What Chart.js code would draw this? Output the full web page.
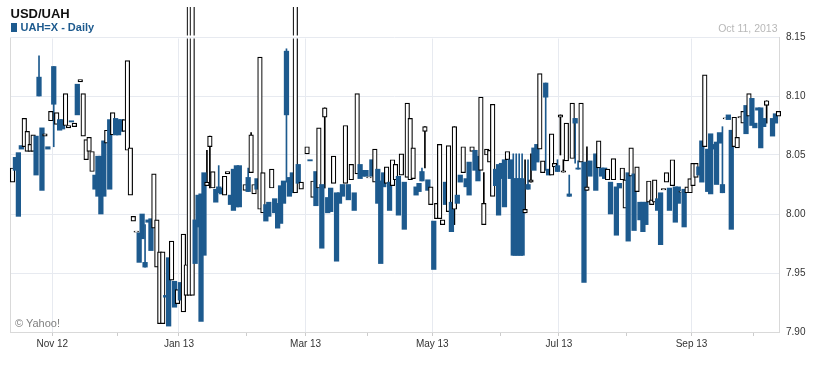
<!DOCTYPE html>
<html><head><meta charset="utf-8">
<script src="https://cdn.jsdelivr.net/npm/chart.js@4"></script>
<style>
html,body{margin:0;padding:0;background:#fff;}
#wrap{position:relative;width:826px;height:366px;overflow:hidden;font-family:"Liberation Sans",Arial,sans-serif;}
canvas{position:absolute;left:0;top:0;}
.t{position:absolute;line-height:1;white-space:nowrap;}
</style></head><body>
<div id="wrap">
<canvas id="c" width="826" height="366"></canvas>
<div class="t" style="left:10.5px;top:7.3px;font-size:13px;font-weight:bold;color:#111">USD/UAH</div>
<div class="t" style="left:10.7px;top:22.7px;width:6.6px;height:9px;background:#1d5a8e"></div>
<div class="t" style="left:20.5px;top:22.4px;font-size:11px;font-weight:bold;color:#1d5a8e">UAH=X - Daily</div>
<div class="t" style="right:48.5px;top:22.8px;font-size:10.5px;color:#b8b8b8">Oct 11, 2013</div>
<div class="t" style="left:15px;top:317.6px;font-size:11px;color:#808080">© Yahoo!</div>
</div>
<script>
// Trading-day index 0 = Oct 12 2012 ... 260 = Oct 11 2013 (null = no candle)
const openV = [
8.027,8.048,8.052,8.058,8.057,8.053,8.053,8.053,8.066,8.116,
8.073,8.066,8.057,8.079,8.125,8.076,8.080,8.080,8.075,8.073,
8.079,8.074,8.110,8.112,8.066,8.046,8.053,8.036,8.033,8.049,
8.049,8.062,8.060,8.080,8.067,8.081,8.080,8.080,8.070,8.054,
8.016,7.994,7.9845,7.984,8.000,7.959,7.995,7.996,7.988,7.955,
7.907,7.907,7.931,7.963,7.944,7.943,7.924,7.942,7.917,7.931,
7.931,7.931,7.995,8.016,8.017,8.035,8.024,8.057,8.022,8.021,
8.023,8.022,8.016,8.034,8.016,8.038,8.041,8.041,null,8.020,
8.031,8.035,8.017,8.030,8.004,8.001,8.008,8.010,8.022,8.013,
8.009,8.024,8.028,8.138,8.031,8.035,8.018,8.042,8.021,null,
8.051,8.046,8.014,8.036,8.022,8.025,8.082,8.014,8.022,8.026,
8.018,8.018,8.025,8.026,8.025,8.029,8.018,8.034,8.042,8.037,
8.037,8.0305,8.046,8.027,8.038,8.028,8.035,8.026,8.027,8.024,
8.029,8.032,8.033,8.027,8.031,8.029,8.030,8.023,8.026,8.036,
8.070,8.029,8.008,7.994,7.996,7.996,7.991,8.027,8.002,8.010,
8.004,8.016,8.033,8.035,8.030,8.044,8.053,8.054,8.049,8.037,
7.991,8.050,8.044,8.015,8.038,8.042,8.043,8.046,8.046,8.046,
8.030,8.030,8.030,8.030,8.001,8.025,8.027,8.056,8.059,8.055,
8.035,8.111,8.038,8.033,8.040,8.041,8.082,8.0355,8.045,8.017,
8.047,8.081,8.039,8.044,8.044,8.020,8.045,null,8.051,8.039,
8.039,8.039,8.029,8.027,8.029,8.023,8.026,8.029,8.005,8.035,
8.032,8.034,8.019,8.010,8.010,8.010,8.010,8.008,8.010,8.013,
8.018,8.0205,8.027,8.022,8.024,8.023,8.023,8.0185,8.021,8.018,
8.018,8.024,8.031,8.040,8.062,8.057,8.055,8.068,8.059,8.061,
8.069,8.025,8.0805,8.084,8.071,8.057,8.056,8.0815,8.077,8.092,
8.083,8.098,8.077,8.090,8.090,8.081,8.092,null,8.081,8.085,
8.083];
const closeV = [
8.039,8.037,7.998,8.055,8.081,8.070,8.059,8.067,8.033,8.100,
8.020,8.068,8.055,8.087,8.093,8.086,8.071,8.072,8.102,8.075,
8.078,8.077,8.084,8.114,8.102,8.063,8.065,8.053,8.021,8.015,
8.000,8.015,8.071,8.021,8.086,8.067,8.067,8.070,8.080,8.130,
8.056,7.998,7.9855,7.959,7.979,7.955,7.993,7.969,8.034,7.995,
7.968,7.968,7.9295,7.905,7.977,7.921,7.936,7.927,7.983,7.957,
8.260,8.260,7.958,7.989,7.909,7.965,8.027,8.066,8.036,8.010,
8.018,8.017,8.032,8.036,8.008,8.003,8.006,8.006,null,8.025,
8.019,8.067,8.025,8.021,8.133,8.035,7.994,7.998,8.038,8.001,
7.988,7.992,8.009,8.084,8.015,8.018,8.260,8.026,8.027,null,
8.057,8.045,8.028,8.007,8.073,7.971,8.090,8.001,8.002,8.049,
7.960,8.009,8.015,8.075,8.012,8.042,8.003,8.102,8.030,8.032,
8.032,8.0315,8.032,8.055,8.009,7.958,8.023,8.040,8.003,8.046,
8.042,7.999,8.051,7.987,8.094,8.081,8.056,8.016,8.019,8.028,
8.074,8.020,8.023,7.953,8.009,8.059,7.995,8.008,8.058,7.985,
8.074,8.009,8.027,8.057,8.023,8.016,8.057,8.037,8.028,8.099,
8.009,8.055,8.054,8.093,8.024,7.999,8.030,8.006,8.053,8.030,
7.965,7.965,7.965,7.965,8.004,8.021,8.029,8.037,8.044,8.119,
8.045,8.099,8.033,8.068,8.043,8.036,8.084,8.0365,8.077,8.015,
8.094,8.077,8.038,8.094,7.942,8.023,8.032,null,8.020,8.062,
8.032,8.030,8.038,8.000,8.047,7.982,8.022,8.039,8.029,7.977,
8.056,7.986,8.040,7.995,7.985,7.991,8.028,8.012,8.029,8.003,
7.974,8.0215,8.035,8.003,8.046,7.993,8.009,8.0195,7.989,8.023,
8.030,8.043,8.043,8.033,8.027,8.118,8.019,8.017,8.055,8.025,
8.060,8.018,8.0815,8.080,7.987,8.082,8.065,8.0825,8.087,8.068,
8.102,8.075,8.073,8.088,8.056,8.074,8.096,null,8.066,8.077,
8.087];
// candles whose high/low reach beyond the body
const wickDay  = [9,14,45,66,67,70,80,81,93,106,139,140,150,160,170,171,172,173,174,175,176,181,185,186,187,189,191,192,195,241,256];
const wickHigh = [8.134,8.125,7.991,8.054,8.066,8.041,8.039,8.069,8.140,8.090,8.039,8.074,8.074,8.035,8.051,8.051,8.051,8.051,8.046,8.046,8.051,8.111,8.046,8.084,8.046,8.033,8.081,8.045,8.057,8.074,8.096];
const wickLow  = [8.100,8.057,7.955,8.024,8.022,8.018,8.019,8.035,8.027,8.022,8.028,8.039,7.991,7.991,7.965,7.965,7.965,7.965,8.001,8.021,8.027,8.037,8.036,8.050,8.0355,8.015,8.043,8.038,8.020,8.018,8.077];
// month boundaries (trading-day index) and their labels
const monthTickIdx = [13.5,35.5,56.5,79.5,99.5,120.5,142.5,165.5,185.5,208.5,230.5,251.5];
const monthTickLabels = ['Nov 12','','Jan 13','','Mar 13','','May 13','','Jul 13','','Sep 13',''];
const yTicks = [7.90,7.95,8.00,8.05,8.10,8.15];

const BLUE = '#1d5a8e';
const GRID = '#e7eaf0';
const BORDER = '#d9d9d9';

const bodies = [];
openV.forEach((o, i) => { if (o !== null) bodies.push({x: i, y: [o, closeV[i]]}); });
const wicks = wickDay.map((d, k) => ({x: d, y: [wickLow[k], wickHigh[k]]}));
const isUp = i => closeV[i] >= openV[i];

const frame = {
  id: 'frame',
  beforeDatasetsDraw(chart) {
    const {ctx, chartArea: a} = chart;
    ctx.save();
    ctx.strokeStyle = BORDER; ctx.lineWidth = 1;
    ctx.beginPath(); ctx.moveTo(a.left + 0.5, a.top); ctx.lineTo(a.left + 0.5, a.bottom); ctx.stroke();
    ctx.restore();
  },
  afterDatasetsDraw(chart) {
    const {ctx, chartArea: a} = chart;
    ctx.save();
    ctx.fillStyle = '#fff';
    ctx.fillRect(a.left + 1, a.top - 1.5, a.right - a.left - 1, 3);
    ctx.strokeStyle = GRID; ctx.lineWidth = 1;
    ctx.beginPath(); ctx.moveTo(a.left, a.top + 0.5); ctx.lineTo(a.right, a.top + 0.5); ctx.stroke();
    ctx.restore();
  }
};

Chart.defaults.font.family = '"Liberation Sans", Arial, sans-serif';
Chart.defaults.font.size = 10;
Chart.defaults.color = '#333';

const clipBox = {left: 4, top: 30, right: 4, bottom: 4};

new Chart(document.getElementById('c'), {
  type: 'bar',
  data: {
    datasets: [
      {
        label: 'UAH=X',
        data: bodies,
        order: 0,
        grouped: false,
        barThickness: 4.6,
        borderSkipped: false,
        backgroundColor: c => isUp(c.raw.x) ? '#ffffff' : BLUE,
        borderColor: c => isUp(c.raw.x) ? '#000000' : BLUE,
        borderWidth: c => isUp(c.raw.x) ? 1.2 : 0,
        clip: clipBox
      },
      {
        label: 'wicks',
        data: wicks,
        order: 1,
        grouped: false,
        barThickness: 1,
        borderWidth: 0,
        backgroundColor: c => isUp(c.raw.x) ? '#000000' : BLUE,
        clip: clipBox
      }
    ]
  },
  options: {
    responsive: false,
    animation: false,
    events: [],
    layout: {padding: {left: 10, top: 37, right: 0, bottom: 0}},
    plugins: {legend: {display: false}, title: {display: false}, tooltip: {enabled: false}},
    scales: {
      x: {
        type: 'linear',
        min: -0.85,
        max: 260.2,
        offset: false,
        afterBuildTicks: s => { s.ticks = monthTickIdx.map(v => ({value: v})); },
        afterFit: s => { s.height = 34; },
        ticks: {
          autoSkip: false, maxRotation: 0, padding: 2,
          callback: (v, i) => monthTickLabels[i],
          font: {size: 10}, color: '#333'
        },
        grid: {
          offset: false,
          color: c => monthTickLabels[c.index] ? GRID : 'rgba(0,0,0,0)',
          tickColor: '#cccccc',
          tickLength: 4
        },
        border: {display: true, color: BORDER}
      },
      y: {
        position: 'right',
        min: 7.90,
        max: 8.15,
        afterBuildTicks: s => { s.ticks = yTicks.map(v => ({value: v})); },
        afterFit: s => { s.width = 47; },
        ticks: {padding: 7, callback: v => Number(v).toFixed(2), font: {size: 10}, color: '#333'},
        grid: {color: GRID, drawTicks: false},
        border: {display: true, color: BORDER}
      }
    }
  },
  plugins: [frame]
});
</script>
</body></html>
